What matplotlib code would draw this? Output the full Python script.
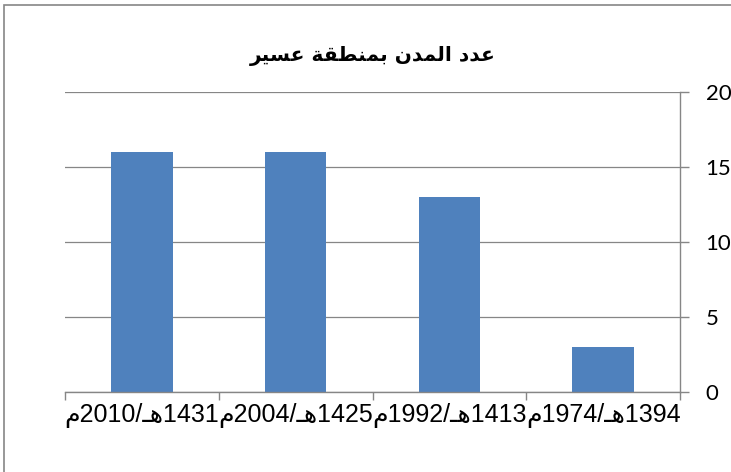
import re
import matplotlib
matplotlib.use("Agg")
import matplotlib.pyplot as plt
from matplotlib.patches import Rectangle

# chart data (categories in logical, right-to-left order)
hijri_years = ["1394", "1413", "1425", "1431"]
greg_years = ["1974", "1992", "2004", "2010"]
categories = [f"{h}هـ/{g}م" for h, g in zip(hijri_years, greg_years)]
city_counts = [3, 13, 16, 16]
chart_title = "عدد المدن بمنطقة عسير"
y_ticks = [0, 5, 10, 15, 20]

# matplotlib has no Arabic shaping / bidi, so do a small one by hand
# forms: isolated, final, initial, medial
FORMS = {
    "ا": ("\uFE8D", "\uFE8E", None, None),
    "ب": ("\uFE8F", "\uFE90", "\uFE91", "\uFE92"),
    "ة": ("\uFE93", "\uFE94", None, None),
    "د": ("\uFEA9", "\uFEAA", None, None),
    "ر": ("\uFEAD", "\uFEAE", None, None),
    "س": ("\uFEB1", "\uFEB2", "\uFEB3", "\uFEB4"),
    "ط": ("\uFEC1", "\uFEC2", "\uFEC3", "\uFEC4"),
    "ع": ("\uFEC9", "\uFECA", "\uFECB", "\uFECC"),
    "ق": ("\uFED5", "\uFED6", "\uFED7", "\uFED8"),
    "ل": ("\uFEDD", "\uFEDE", "\uFEDF", "\uFEE0"),
    "م": ("\uFEE1", "\uFEE2", "\uFEE3", "\uFEE4"),
    "ن": ("\uFEE5", "\uFEE6", "\uFEE7", "\uFEE8"),
    "ه": ("\uFEE9", "\uFEEA", "\uFEEB", "\uFEEC"),
    "ي": ("\uFEF1", "\uFEF2", "\uFEF3", "\uFEF4"),
    "ـ": ("ـ", "ـ", "ـ", "ـ"),
}


def shape(s):
    out = []
    for i, ch in enumerate(s):
        if ch not in FORMS:
            out.append(ch)
            continue
        prev = s[i - 1] if i > 0 else ""
        nxt = s[i + 1] if i + 1 < len(s) else ""
        jp = prev in FORMS and FORMS[prev][2] is not None
        jn = FORMS[ch][2] is not None and nxt in FORMS
        iso, fin, ini, med = FORMS[ch]
        if jp and jn:
            out.append(med)
        elif jp:
            out.append(fin)
        elif jn:
            out.append(ini)
        else:
            out.append(iso)
    return "".join(out)


def visual(s):
    tokens = re.findall(r"\d+|\D+", shape(s))[::-1]
    return "".join(t if t.isdigit() else t[::-1] for t in tokens)


W, H = 731, 472
fig = plt.figure(figsize=(W / 100, H / 100), dpi=100)
ax = fig.add_axes([65 / W, 1 - 392 / H, 615 / W, 299.6 / H])

grey = "#868686"
x = list(range(len(categories)))
ax.bar(x, city_counts, width=0.4, color="#4F81BD", zorder=2)

ax.set_xlim(len(categories) - 0.5, -0.5)  # right-to-left category axis
ax.set_ylim(0, 20)
ax.set_yticks(y_ticks)
ax.yaxis.tick_right()
ax.grid(axis="y", color=grey, linewidth=0.9)
ax.set_axisbelow(True)

for side in ["top", "left"]:
    ax.spines[side].set_visible(False)
for side in ["right", "bottom"]:
    ax.spines[side].set_color(grey)
    ax.spines[side].set_linewidth(1.0)

ax.set_xticks(x)
ax.set_xticklabels([visual(c) for c in categories],
                   family=["Liberation Sans", "DejaVu Sans"], fontsize=18)
ax.set_xticks([i - 0.5 for i in range(len(categories) + 1)], minor=True)
ax.tick_params(axis="x", which="major", length=0, pad=8)
ax.tick_params(axis="x", which="minor", length=6, width=1.0, color=grey)
ax.tick_params(axis="y", length=6.5, width=1.0, color=grey, pad=12,
               labelsize=16)
for lab in ax.get_yticklabels():
    lab.set_family(["Lato", "DejaVu Sans"])
    lab.set_horizontalalignment("left")

fig.text(372.5 / W, 1 - 56 / H, visual(chart_title), ha="center", va="center",
         fontsize=14.5, fontweight="bold", family=["DejaVu Sans"])

# outer chart border (runs off the right and bottom edges)
fig.patches.append(Rectangle((3.5 / W, -0.1), 1.2, 1 - 4.5 / H + 0.1,
                             transform=fig.transFigure, fill=False,
                             edgecolor=grey, linewidth=1.2))

fig.savefig("out.png", dpi=100)
